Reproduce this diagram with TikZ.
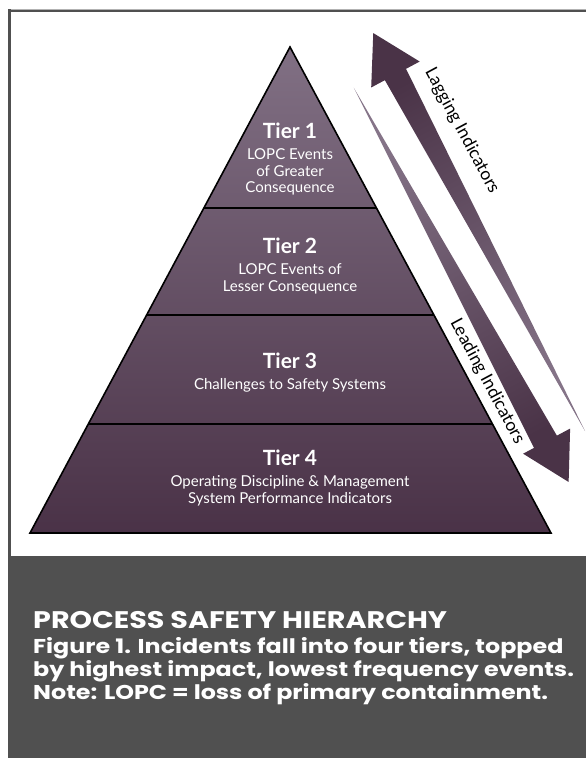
\documentclass[tikz,border=0pt]{standalone}
\usepackage{fontspec}
\setmainfont{Lato}
\newfontfamily\captionfont{Poppins}[FakeStretch=1.19]
\usetikzlibrary{calc}

\definecolor{plumtop}{HTML}{817084}
\definecolor{plumbot}{HTML}{4A3247}
\definecolor{arrowdark}{HTML}{4A3347}
\definecolor{arrowlight}{HTML}{857488}
\definecolor{boxgray}{HTML}{505050}

\tikzset{
  tiername/.style={text=white, font=\bfseries\fontsize{21}{24}\selectfont, inner sep=0pt, anchor=base},
  tierdesc/.style={text=white, font=\fontsize{15}{16.5}\selectfont, align=center, inner sep=0pt, anchor=north},
  indicator/.style={font=\fontsize{17.5}{20}\selectfont, rotate=-61.85, inner sep=0pt},
  captext/.style={text=white, font=\captionfont\bfseries\fontsize{20}{23}\selectfont, align=left, inner sep=0pt},
}

\begin{document}
\begin{tikzpicture}[x=1pt, y=-1pt]
\useasboundingbox (0,0) rectangle (586,758);

% frame and caption box
\draw[gray!60, line width=0.8pt] (8,9.4) -- (586,9.4);
\draw[boxgray, line width=2.8pt] (8,11) -- (586,11);
\draw[boxgray, line width=3pt] (9.5,9.4) -- (9.5,557);
\fill[boxgray] (8,556) rectangle (586,758);

% pyramid
\def\apexy{47}
\def\basey{533}
\coordinate (apex) at (290,\apexy);
\coordinate (baseL) at (30,\basey);
\coordinate (baseR) at (551,\basey);
\shade[top color=plumtop, bottom color=plumbot] (apex) -- (baseR) -- (baseL) -- cycle;
\foreach \y in {208,315,424}{
  \draw[line width=1.5pt] ($(apex)!{(\y-\apexy)/(\basey-\apexy)}!(baseL)$) -- ($(apex)!{(\y-\apexy)/(\basey-\apexy)}!(baseR)$);
}
\draw[line width=1.6pt] (apex) -- (baseR) -- (baseL) -- cycle;

% tier labels
\foreach \n/\y/\desc in {1/138/{LOPC Events\\of Greater\\Consequence},
                         2/253/{LOPC Events of\\Lesser Consequence},
                         3/368/{Challenges to Safety Systems},
                         4/465/{Operating Discipline \& Management\\System Performance Indicators}}{
  \node[tiername] (tier\n) at (290,\y) {Tier \n};
  \node[tierdesc] (desc\n) at (290,\y+10.5) {\desc};
}

% indicator arrows, drawn along the right side of the pyramid
\begin{scope}[shift={(apex)}, x={(0.8817pt,0.4717pt)}, y={(0.4717pt,-0.8817pt)}]
  \shade[top color=arrowdark, bottom color=arrowlight, shading angle=28.15]
    (80,27) -- (107.5,74) -- (92,74) -- (79,478) -- (68,74) -- (52.5,74) -- cycle;
  \shade[top color=arrowlight, bottom color=arrowdark, shading angle=28.15]
    (37,66) -- (52,468.6) -- (67,468.6) -- (40.5,515) -- (13.7,468.6) -- (26,468.6) -- cycle;
  \node[indicator] (lagging) at (112,155) {Lagging Indicators};
  \node[indicator] (leading) at (16,388) {Leading Indicators};
\end{scope}

% caption
\node[captext, anchor=base west, font=\captionfont\bfseries\fontsize{24}{27}\selectfont] (captitle) at (33,628) {PROCESS SAFETY HIERARCHY};
\node[captext, anchor=base west] (capbody) at (33,653) {Figure 1. Incidents fall into four tiers, topped};
\node[captext, anchor=base west] (capbody2) at (33,676) {by highest impact, lowest frequency events.};
\node[captext, anchor=base west] (capbody3) at (33,699) {Note: LOPC = loss of primary containment.};
\end{tikzpicture}
\end{document}
